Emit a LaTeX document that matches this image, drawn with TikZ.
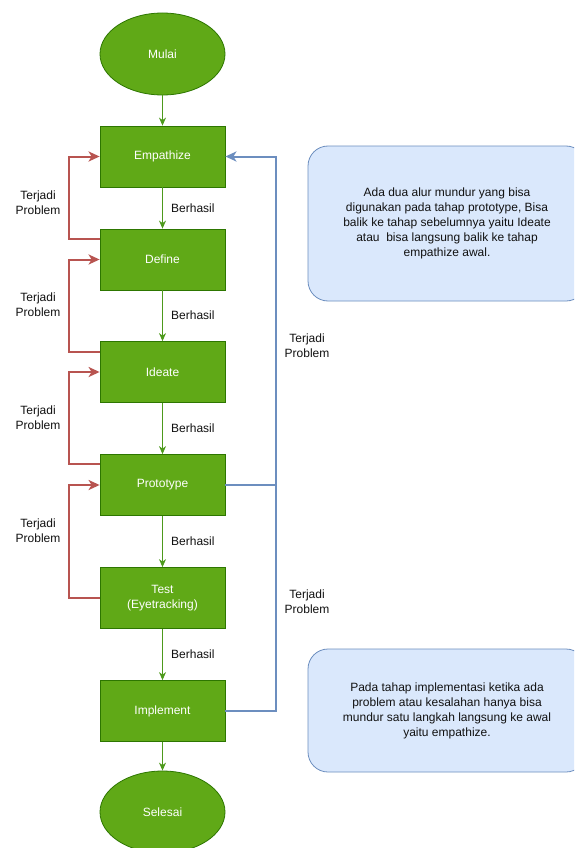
\documentclass[tikz,border=0pt]{standalone}
\usepackage{fontspec}
\setmainfont{Liberation Sans}
\usetikzlibrary{arrows.meta,shapes.geometric,calc}
\definecolor{gfill}{HTML}{60A917}
\definecolor{gstroke}{HTML}{2D7600}
\definecolor{garrow}{HTML}{4D9A1C}
\definecolor{rline}{HTML}{B85450}
\definecolor{bline}{HTML}{6C8EBF}
\definecolor{bfill}{HTML}{DAE8FC}
\definecolor{tdark}{HTML}{111111}
\tikzset{
  every node/.style={font=\fontsize{12}{15}\selectfont, inner sep=0pt},
  stagebox/.style={rectangle, draw=gstroke, fill=gfill, line width=0.8pt, minimum width=125pt, minimum height=61pt, text=white, align=center},
  termbox/.style={ellipse, draw=gstroke, fill=gfill, line width=0.8pt, minimum width=125pt, minimum height=82pt, text=white},
  notebox/.style={rectangle, rounded corners=20pt, draw=bline, fill=bfill, line width=0.8pt, minimum width=278pt, text=tdark, align=center},
  garr/.style={draw=garrow, line width=1pt, -{Stealth[length=8pt,width=7pt,inset=2.5pt]}},
  rarr/.style={draw=rline, line width=2pt, -{Stealth[length=11pt,width=10pt,inset=3pt]}},
  barr/.style={draw=bline, line width=2pt, -{Stealth[length=11pt,width=10pt,inset=3pt]}},
  bplain/.style={draw=bline, line width=2pt},
  lbl/.style={text=tdark, align=center},
}
\begin{document}
\begin{tikzpicture}[x=1pt,y=-1pt]
\clip (0,0) rectangle (574,848);
\fill[white] (0,0) rectangle (574,848);

\node[termbox] (start) at (162.5,54) {Mulai};
\node[stagebox] (emp) at (162.5,156.5) {Empathize};
\node[stagebox] (def) at (162.5,259.5) {Define};
\node[stagebox] (ide) at (162.5,372) {Ideate};
\node[stagebox] (pro) at (162.5,485) {Prototype};
\node[stagebox] (tst) at (162.5,598) {Test\\(Eyetracking)};
\node[stagebox] (imp) at (162.5,711) {Implement};
\node[termbox] (end) at (162.5,812) {Selesai};

\node[notebox, minimum height=155pt] (note1) at (447,223.5) {Ada dua alur mundur yang bisa\\digunakan pada tahap prototype, Bisa\\balik ke tahap sebelumnya yaitu Ideate\\atau\ \ bisa langsung balik ke tahap\\empathize awal.};
\node[notebox, minimum height=123pt] (note2) at (447,710.5) {Pada tahap implementasi ketika ada\\problem atau kesalahan hanya bisa\\mundur satu langkah langsung ke awal\\yaitu empathize.};

% green forward arrows
\draw[garr] (start) -- (emp);
\draw[garr] (emp) -- (def);
\draw[garr] (def) -- (ide);
\draw[garr] (ide) -- (pro);
\draw[garr] (pro) -- (tst);
\draw[garr] (tst) -- (imp);
\draw[garr] (imp) -- (end);

% Berhasil labels
\node[lbl, anchor=west] (b1) at (171,208) {Berhasil};
\node[lbl, anchor=west] (b2) at (171,315) {Berhasil};
\node[lbl, anchor=west] (b3) at (171,428) {Berhasil};
\node[lbl, anchor=west] (b4) at (171,541) {Berhasil};
\node[lbl, anchor=west] (b5) at (171,654) {Berhasil};

% red back loops
\draw[rarr] ([yshift=20.5pt]def.west) -- ++(-31,0) |- (emp.west);
\draw[rarr] ([yshift=20pt]ide.west) -- ++(-31,0) |- (def.west);
\draw[rarr] ([yshift=21pt]pro.west) -- ++(-31,0) |- (ide.west);
\draw[rarr] (tst.west) -- ++(-31,0) |- (pro.west);

\node[lbl] (t1) at (38,203) {Terjadi\\Problem};
\node[lbl] (t2) at (38,305) {Terjadi\\Problem};
\node[lbl] (t3) at (38,418) {Terjadi\\Problem};
\node[lbl] (t4) at (38,531) {Terjadi\\Problem};

% blue back loops
\coordinate (bj) at (276,485);
\draw[barr] (imp.east) -- ++(51,0) |- (emp.east);
\draw[bplain] (pro.east) -- (bj);

\node[lbl] (t5) at (307,346) {Terjadi\\Problem};
\node[lbl] (t6) at (307,602) {Terjadi\\Problem};
\end{tikzpicture}
\end{document}
